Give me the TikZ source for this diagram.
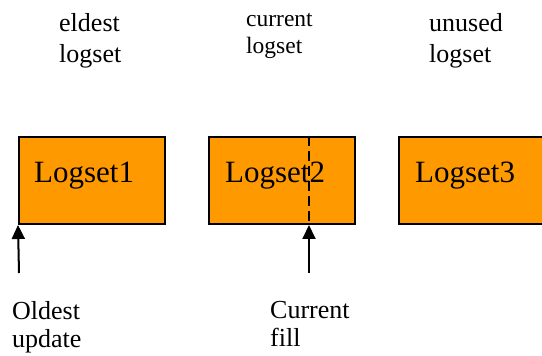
\documentclass[tikz,border=0pt]{standalone}
\usepackage{fontspec}
\setmainfont{Liberation Serif}
\usetikzlibrary{arrows.meta, positioning}
\definecolor{logorange}{RGB}{255,153,0}

\begin{document}
\begin{tikzpicture}[x=1pt, y=1pt,
    logbox/.style={draw=black, line width=2pt, fill=logorange, minimum width=146pt, minimum height=87pt, inner sep=0pt},
    logname/.style={font=\fontsize{31}{36}\selectfont, inner sep=0pt, anchor=base west},
    toplabel/.style={font=\fontsize{26}{31}\selectfont, align=left, inner sep=0pt, anchor=north west},
    ptrlabel/.style={font=\fontsize{26}{28}\selectfont, align=left, inner sep=0pt, anchor=north west},
    ptr/.style={line width=2pt, -{Triangle[width=13pt, length=14pt]}}]
        \clip (0,0) rectangle (542,356);
        \node[logbox] (set1) at (92,175.5) {};
        \node[logbox] (set2) at (282,175.5) {};
        \node[logbox, minimum width=161pt] (set3) at (479.5,175.5) {};
        \node[logname] (name1) at ([xshift=16pt, yshift=-2.5pt]set1.west) {Logset1};
        \node[logname] (name2) at ([xshift=17pt, yshift=-2.5pt]set2.west) {Logset2};
        \node[logname] (name3) at ([xshift=17pt, yshift=-2.5pt]set3.west) {Logset3};
        \node[toplabel] (eldest) at (59,343) {eldest\\logset};
        \node[toplabel, font=\fontsize{23.5}{27}\selectfont] (current) at (246,343) {current\\logset};
        \node[toplabel] (unused) at (429,343) {unused\\logset};
        \node[ptrlabel] (oldest) at (12,55) {Oldest\\update};
        \node[ptrlabel] (curfill) at (270,55) {Current\\fill};
        \coordinate (oldtail) at (19,83);
        \coordinate (filltail) at (309,83);
        \draw[line width=1.2pt, dash pattern=on 10pt off 5pt] (filltail |- set2.north) -- (filltail |- set2.south);
        \draw[ptr] (oldtail) -- (set1.south west);
        \draw[ptr] (filltail) -- (filltail |- set2.south);
      \end{tikzpicture}
\end{document}
